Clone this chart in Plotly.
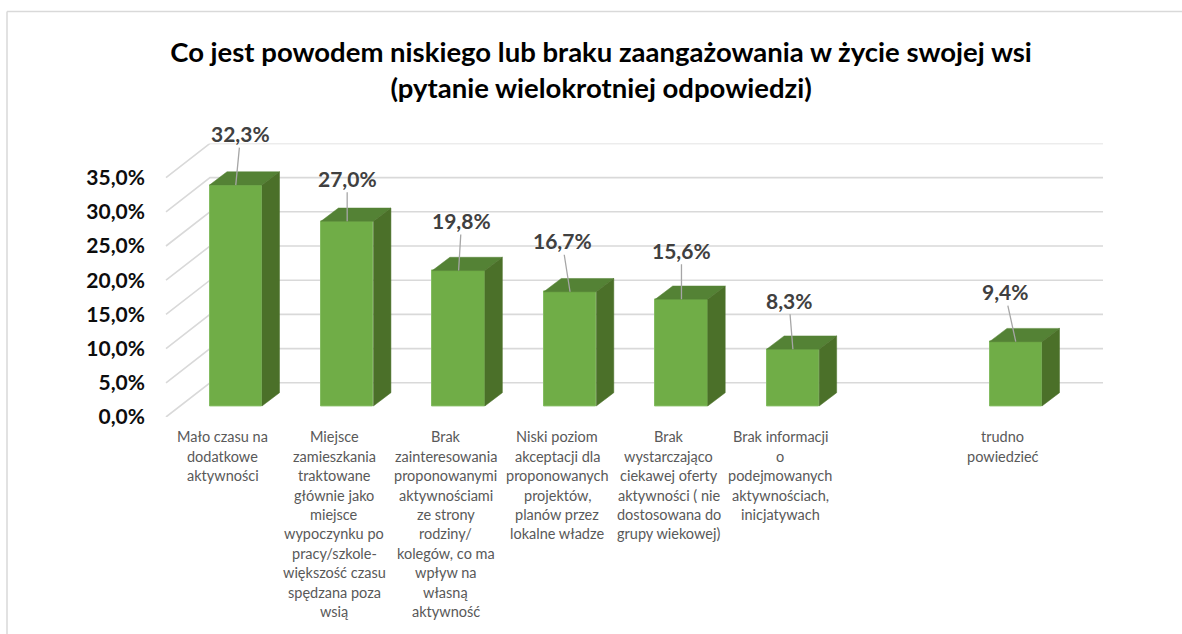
import plotly.graph_objects as go

W, H = 1182, 634

title = "Co jest powodem niskiego lub braku zaangażowania w życie swojej wsi<br>(pytanie wielokrotniej odpowiedzi)"

category_lines = [
    ["Mało czasu na", "dodatkowe", "aktywności"],
    ["Miejsce", "zamieszkania", "traktowane", "głównie jako", "miejsce", "wypoczynku po",
     "pracy/szkole-", "większość czasu", "spędzana poza", "wsią"],
    ["Brak", "zainteresowania", "proponowanymi", "aktywnościami", "ze strony", "rodziny/",
     "kolegów, co ma", "wpływ na", "własną", "aktywność"],
    ["Niski poziom", "akceptacji dla", "proponowanych", "projektów,", "planów przez", "lokalne władze"],
    ["Brak", "wystarczająco", "ciekawej oferty", "aktywności ( nie", "dostosowana do", "grupy wiekowej)"],
    ["Brak informacji", "o", "podejmowanych", "aktywnościach,", "inicjatywach"],
    [],
    ["trudno", "powiedzieć"],
]
values = [32.3, 27.0, 19.8, 16.7, 15.6, 8.3, None, 9.4]
y_ticks = [0, 5, 10, 15, 20, 25, 30, 35]
y_tick_labels = ["0,0%", "5,0%", "10,0%", "15,0%", "20,0%", "25,0%", "30,0%", "35,0%"]

# data-label offsets from the top of each bar, in pixels
label_dx = [5, 0, 3, -8, 0, -4, None, -11]
label_dy = [-51.5, -43, -50, -51, -49, -49, None, -50]

GREEN, GREEN_TOP, GREEN_SIDE = "#70AD47", "#548235", "#4B7029"
GRID = "#D9D9D9"
FONT = "Lato"

# scales: pixels per category and per percentage point
PX_CAT, PX_UNIT = 111.43, 6.84
X0_PX = 235.75                        # centre of the first bar
FLOOR_PX, BAR_BASE_PX = 417.0, 406.0  # y pixel of value 0 on the axis plane / at the bar
TOP_VALUE = 40

x_range = [-X0_PX / PX_CAT, (W - X0_PX) / PX_CAT]
y_dom = [1 - FLOOR_PX / H, 1 - (FLOOR_PX - TOP_VALUE * PX_UNIT) / H]
bar_shift = (FLOOR_PX - BAR_BASE_PX) / PX_UNIT

BAR_W = 52.5 / PX_CAT
DX, DY = 17.5 / PX_CAT, 13.3 / PX_UNIT
xs = list(range(len(values)))

fig = go.Figure()

# gridlines on the side wall and back wall
GRID_L, GRID_B, GRID_R = (166 - X0_PX) / PX_CAT, (210 - X0_PX) / PX_CAT, (1103 - X0_PX) / PX_CAT
gx, gy = [], []
for t in y_ticks:
    gx += [GRID_L, GRID_B, GRID_R, None]
    gy += [t, t + 5, t + 5, None]
fig.add_trace(go.Scatter(x=gx, y=gy, mode="lines", line=dict(color=GRID, width=1.6),
                         hoverinfo="skip", showlegend=False, yaxis="y"))

# front faces
fig.add_trace(go.Bar(x=xs, y=values, width=BAR_W, yaxis="y2", showlegend=False,
                     marker=dict(color=GREEN, line=dict(color="#84BC62", width=1))))

# top and side faces
for i, v in zip(xs, values):
    if v is None:
        continue
    l, r = i - BAR_W / 2, i + BAR_W / 2
    fig.add_trace(go.Scatter(x=[l, l + DX, r + DX, r, l], y=[v, v + DY, v + DY, v, v],
                             mode="lines", fill="toself", fillcolor=GREEN_TOP,
                             line=dict(color=GREEN_TOP, width=0.5), yaxis="y2",
                             hoverinfo="skip", showlegend=False))
    fig.add_trace(go.Scatter(x=[r, r + DX, r + DX, r, r], y=[v, v + DY, DY, 0, v],
                             mode="lines", fill="toself", fillcolor=GREEN_SIDE,
                             line=dict(color=GREEN_SIDE, width=0.5), yaxis="y2",
                             hoverinfo="skip", showlegend=False))

annotations = []

# value labels with leader lines
for i, v in enumerate(values):
    if v is None:
        continue
    annotations.append(dict(
        x=i, y=v, xref="x", yref="y2",
        text=f"{v:.1f}".replace(".", ",") + "%",
        font=dict(family=FONT, size=21, color="#404040", weight="bold"),
        showarrow=True, arrowhead=0, arrowwidth=1.3, arrowcolor="#A6A6A6",
        ax=label_dx[i], ay=label_dy[i], axref="pixel", ayref="pixel",
    ))

# category labels, one text per wrapped line
for i, lines in enumerate(category_lines):
    for k, line in enumerate(lines):
        annotations.append(dict(
            x=i, y=0, xref="x", yref="y", xanchor="center", yanchor="middle",
            xshift=-12.8, yshift=-19.7 - 19.45 * k,
            text=line, showarrow=False,
            font=dict(family=FONT, size=14.5, color="#595959"),
        ))

fig.update_layout(
    width=W, height=H, autosize=False,
    margin=dict(l=0, r=0, t=0, b=0, pad=0, autoexpand=False),
    paper_bgcolor="white", plot_bgcolor="white",
    bargap=0,
    showlegend=False,
    title=dict(text=title, x=0.5085, xanchor="center", y=0.9026, yanchor="bottom",
               font=dict(family=FONT, size=27.5, color="#000000", weight="bold")),
    xaxis=dict(range=x_range, domain=[0, 1], visible=False, fixedrange=True),
    yaxis=dict(range=[0, TOP_VALUE], domain=y_dom, anchor="free", position=145 / W,
               tickmode="array", tickvals=y_ticks, ticktext=y_tick_labels,
               showgrid=False, zeroline=False, showline=False, ticks="", fixedrange=True,
               tickfont=dict(family=FONT, size=21, color="#0D0D0D", weight="bold")),
    yaxis2=dict(range=[-bar_shift, TOP_VALUE - bar_shift], overlaying="y", visible=False, fixedrange=True),
    annotations=annotations,
    shapes=[
        dict(type="line", xref="paper", yref="paper", x0=7 / W, x1=1, y0=1 - 11.5 / H, y1=1 - 11.5 / H,
             line=dict(color=GRID, width=1.5)),
        dict(type="line", xref="paper", yref="paper", x0=7 / W, x1=7 / W, y0=0, y1=1 - 11.5 / H,
             line=dict(color=GRID, width=1.5)),
    ],
)

fig.write_html("out.html", config=dict(displayModeBar=False),
               post_script="document.body.style.margin='0';document.body.style.overflow='hidden';")
